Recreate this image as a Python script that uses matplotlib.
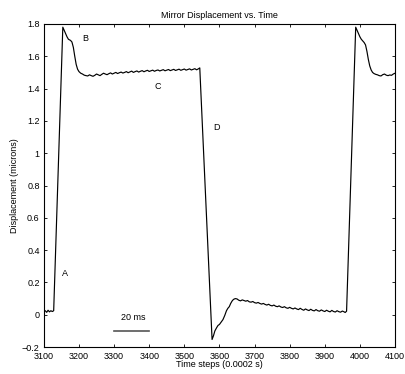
import matplotlib.pyplot as plt
import numpy as np

plt.rcParams['font.family'] = ['Liberation Sans', 'DejaVu Sans']

# time steps and mirror displacement
steps = [3100, 3104, 3108, 3112, 3116, 3120, 3124, 3128,
         3154, 3158, 3162, 3166, 3170, 3176, 3180, 3184, 3188, 3192, 3196,
         3200, 3205, 3210, 3215, 3220, 3225, 3230, 3235, 3240, 3245, 3250,
         3255, 3260, 3265, 3270, 3275, 3280, 3285, 3290, 3295, 3300, 3305,
         3310, 3315, 3320, 3325, 3330, 3335, 3340, 3345, 3350, 3355, 3360,
         3365, 3370, 3375, 3380, 3385, 3390, 3395, 3400, 3405, 3410, 3415,
         3420, 3425, 3430, 3435, 3440, 3445, 3450, 3455, 3460, 3465, 3470,
         3475, 3480, 3485, 3490, 3495, 3500, 3505, 3510, 3515, 3520, 3525,
         3530, 3535, 3540, 3544,
         3579, 3583, 3587, 3592, 3596, 3600, 3605, 3610, 3615, 3620, 3624,
         3628, 3632, 3636, 3640, 3645, 3650, 3655, 3660, 3665, 3670, 3675,
         3680, 3685, 3690, 3695, 3700, 3705, 3710, 3715, 3720, 3725, 3730,
         3735, 3740, 3745, 3750, 3755, 3760, 3765, 3770, 3775, 3780, 3785,
         3790, 3795, 3800, 3805, 3810, 3815, 3820, 3825, 3830, 3835, 3840,
         3845, 3850, 3855, 3860, 3865, 3870, 3875, 3880, 3885, 3890, 3895,
         3900, 3905, 3910, 3915, 3920, 3925, 3930, 3935, 3940, 3945, 3950,
         3955, 3958, 3962,
         3988, 3992, 3996, 4000, 4004, 4008, 4012, 4016, 4020, 4024, 4028,
         4032, 4036, 4040, 4045, 4050, 4055, 4060, 4065, 4070, 4075, 4080,
         4085, 4090, 4095, 4100]
disp = [0.020, 0.025, 0.015, 0.028, 0.018, 0.025, 0.020, 0.025,
        1.780, 1.760, 1.740, 1.720, 1.705, 1.698, 1.688, 1.655, 1.600, 1.550, 1.520,
        1.505, 1.495, 1.490, 1.483, 1.480, 1.478, 1.485, 1.480, 1.476, 1.482, 1.490,
        1.485, 1.480, 1.488, 1.495, 1.490, 1.486, 1.492, 1.497, 1.490, 1.495, 1.500,
        1.493, 1.498, 1.502, 1.496, 1.500, 1.505, 1.498, 1.503, 1.508, 1.500, 1.505,
        1.509, 1.502, 1.507, 1.511, 1.504, 1.509, 1.513, 1.506, 1.510, 1.514, 1.507,
        1.512, 1.515, 1.509, 1.513, 1.517, 1.510, 1.514, 1.518, 1.511, 1.515, 1.519,
        1.512, 1.516, 1.520, 1.513, 1.517, 1.521, 1.514, 1.518, 1.522, 1.515, 1.519,
        1.523, 1.516, 1.522, 1.528,
        -0.153, -0.130, -0.100, -0.080, -0.066, -0.060, -0.045, -0.030, -0.005, 0.025, 0.040,
        0.050, 0.070, 0.085, 0.095, 0.100, 0.098, 0.090, 0.086, 0.092, 0.088, 0.084,
        0.088, 0.080, 0.078, 0.082, 0.075, 0.072, 0.076, 0.070, 0.066, 0.070, 0.064,
        0.060, 0.065, 0.058, 0.055, 0.060, 0.053, 0.050, 0.055, 0.048, 0.045, 0.050,
        0.043, 0.040, 0.046, 0.040, 0.036, 0.042, 0.036, 0.032, 0.040, 0.033, 0.028,
        0.036, 0.030, 0.026, 0.034, 0.027, 0.024, 0.032, 0.025, 0.022, 0.030, 0.024,
        0.020, 0.028, 0.022, 0.018, 0.027, 0.020, 0.017, 0.025, 0.019, 0.016, 0.023,
        0.018, 0.014, 0.022,
        1.780, 1.760, 1.740, 1.720, 1.705, 1.695, 1.685, 1.670, 1.630, 1.580, 1.540,
        1.515, 1.500, 1.493, 1.488, 1.485, 1.480, 1.478, 1.486, 1.490, 1.483, 1.480,
        1.484, 1.482, 1.490, 1.495]

labels = ["A", "B", "C", "D"]
label_x = [3159, 3217, 3425, 3591]
label_y = [0.255, 1.707, 1.41, 1.16]

fig = plt.figure(figsize=(4.06, 3.74), dpi=100)
ax = fig.add_axes([0.108, 0.072, 0.865, 0.864])

ax.plot(steps, disp, color="black", linewidth=0.85)

for s, lx, ly in zip(labels, label_x, label_y):
    ax.text(lx, ly, s, fontsize=6.5, ha="center", va="center")

# 20 ms scale bar
ax.plot([3300, 3400], [-0.103, -0.103], color="#555555", linewidth=1.2)
ax.text(3354, -0.02, "20 ms", fontsize=6.5, ha="center", va="center")

ax.set_xlim(3100, 4100)
ax.set_ylim(-0.2, 1.8)
ax.set_xticks(np.arange(3100, 4101, 100))
ax.set_yticks([-0.2, 0, 0.2, 0.4, 0.6, 0.8, 1, 1.2, 1.4, 1.6, 1.8])
ax.set_yticklabels(["\u22120.2", "0", "0.2", "0.4", "0.6", "0.8", "1",
                    "1.2", "1.4", "1.6", "1.8"])
ax.tick_params(direction="in", length=2.5, width=0.6, labelsize=6.5,
               top=True, right=True)
ax.tick_params(axis="y", pad=3)
ax.tick_params(axis="x", pad=3.5)
for sp in ax.spines.values():
    sp.set_linewidth(0.8)

ax.set_title("Mirror Displacement vs. Time", fontsize=6.5, pad=4)
ax.set_xlabel("Time steps (0.0002 s)", fontsize=6.5, labelpad=-1)
ax.set_ylabel("Displacement (microns)", fontsize=6.5, labelpad=2)

fig.savefig("out.png", dpi=100)
